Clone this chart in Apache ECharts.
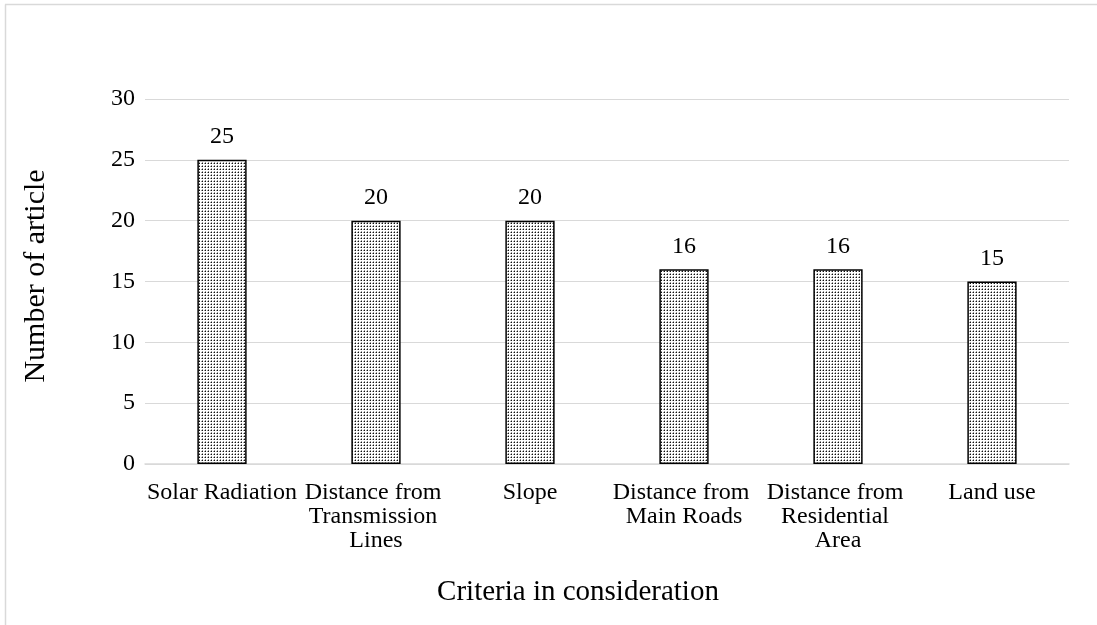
<!DOCTYPE html>
<html>
<head>
<meta charset="utf-8">
<script src="https://cdn.jsdelivr.net/npm/echarts@6/dist/echarts.min.js"></script>
<style>
  html, body { margin: 0; padding: 0; background: #fff; }
  #chart { width: 1097px; height: 625px; }
</style>
</head>
<body>
<div id="chart"></div>
<script>
const categories = [
  'Solar Radiation',
  'Distance from Transmission Lines',
  'Slope',
  'Distance from Main Roads',
  'Distance from Residential Area',
  'Land use'
];
const articleCounts = [25, 20, 20, 16, 16, 15];
const yTicks = [0, 5, 10, 15, 20, 25, 30];

// Small stippled tile used to fill each bar
function makeDotPattern() {
  const c = document.createElement('canvas');
  c.width = 3; c.height = 3;
  const ctx = c.getContext('2d');
  ctx.fillStyle = '#ffffff';
  ctx.fillRect(0, 0, 3, 3);
  ctx.fillStyle = '#111111';
  ctx.fillRect(1, 1, 1, 1);
  ctx.fillStyle = '#9a9a9a';
  ctx.fillRect(1, 0, 1, 1);
  ctx.fillRect(0, 1, 1, 1);
  return c;
}

const serif = '"Liberation Serif", "Times New Roman", serif';
const chart = echarts.init(document.getElementById('chart'), null, { renderer: 'canvas' });

chart.setOption({
  animation: false,
  backgroundColor: '#ffffff',
  grid: { left: 145, right: 28, top: 99, bottom: 161 },
  xAxis: {
    type: 'category',
    data: categories,
    axisLine: { show: true, lineStyle: { color: '#d9d9d9', width: 1.5 } },
    axisTick: { show: false },
    axisLabel: {
      interval: 0,
      margin: 17,
      width: 154,
      overflow: 'break',
      lineHeight: 24,
      fontFamily: serif,
      fontSize: 24,
      color: '#000'
    }
  },
  yAxis: {
    type: 'value',
    min: yTicks[0],
    max: yTicks[yTicks.length - 1],
    interval: yTicks[1] - yTicks[0],
    axisLine: { show: false },
    axisTick: { show: false },
    splitLine: { lineStyle: { color: '#d9d9d9', width: 1 } },
    axisLabel: {
      margin: 10,
      fontFamily: serif,
      fontSize: 24,
      color: '#000'
    }
  },
  series: [{
    type: 'bar',
    data: articleCounts,
    barWidth: '32%',
    itemStyle: {
      color: { image: makeDotPattern(), repeat: 'repeat' },
      borderColor: '#000',
      borderWidth: 1.5
    },
    label: {
      show: true,
      position: 'top',
      distance: 11,
      fontFamily: serif,
      fontSize: 24,
      color: '#000'
    }
  }],
  graphic: [
    { type: 'line', shape: { x1: 5.5, y1: 4.5, x2: 5.5, y2: 625 }, style: { stroke: '#d9d9d9', lineWidth: 1.5 } },
    { type: 'line', shape: { x1: 5, y1: 4.5, x2: 1097, y2: 4.5 }, style: { stroke: '#d9d9d9', lineWidth: 1.5 } },
    {
      type: 'text', x: 36, y: 276, rotation: Math.PI / 2,
      style: { text: 'Number of article', font: '30px ' + serif, fill: '#000', textAlign: 'center', textVerticalAlign: 'middle' }
    },
    {
      type: 'text', x: 578, y: 592,
      style: { text: 'Criteria in consideration', font: '29px ' + serif, fill: '#000', textAlign: 'center', textVerticalAlign: 'middle' }
    }
  ]
});
</script>
</body>
</html>
